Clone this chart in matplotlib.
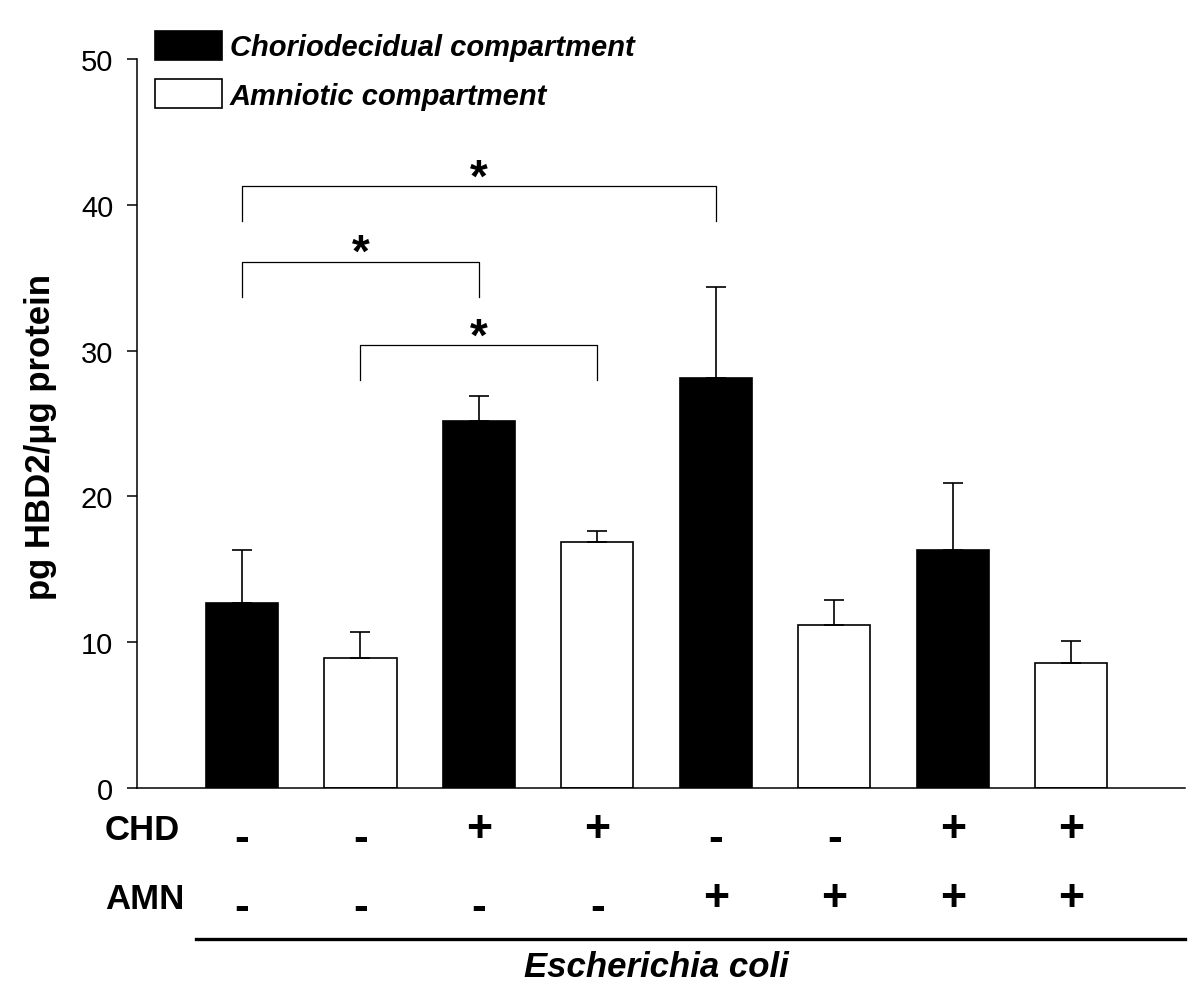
import numpy as np
import matplotlib
matplotlib.use("Agg")
import matplotlib.pyplot as plt

plt.rcParams['font.family'] = ['Liberation Sans', 'DejaVu Sans']

# data
means = [12.7, 8.9, 25.2, 16.9, 28.1, 11.2, 16.3, 8.6]
errs = [3.6, 1.8, 1.7, 0.7, 6.3, 1.7, 4.6, 1.5]
chd = ['-', '-', '+', '+', '-', '-', '+', '+']
amn = ['-', '-', '-', '-', '+', '+', '+', '+']
series = ['Choriodecidual compartment', 'Amniotic compartment']
# significance brackets: (left bar, right bar, bracket height, leg bottom)
brackets = [(0, 4, 41.3, 38.9), (0, 2, 36.1, 33.7), (1, 3, 30.4, 28.0)]

x = np.arange(len(means))
fig = plt.figure(figsize=(12, 10.03), dpi=100)
ax = fig.add_axes([0.114, 0.2134, 0.8735, 0.7266])

w = 0.61
ax.bar(x[0::2], means[0::2], w, color='black', edgecolor='black', lw=1.2,
       label=series[0], zorder=2)
ax.bar(x[1::2], means[1::2], w, color='white', edgecolor='black', lw=1.2,
       label=series[1], zorder=2)
ax.errorbar(x, means, yerr=[np.zeros(len(errs)), errs], fmt='none',
            ecolor='black', elinewidth=1.2, capsize=7, capthick=1.2, zorder=3)

for a, b, yb, yl in brackets:
    ax.plot([x[a], x[a], x[b], x[b]], [yl, yb, yb, yl], color='black', lw=0.9)
    ax.text((x[a] + x[b]) / 2, yb - 0.3, '*', ha='center', va='baseline',
            fontsize=33, fontweight='bold')

ax.set_xlim(-0.887, 7.96)
ax.set_ylim(0, 50)
ax.set_yticks(np.arange(0, 51, 10))
ax.set_xticks([])
ax.tick_params(axis='y', direction='out', length=7, width=1.1, pad=10,
               labelsize=21)
for s in ['top', 'right']:
    ax.spines[s].set_visible(False)
for s in ['left', 'bottom']:
    ax.spines[s].set_linewidth(1.1)

# condition rows under the axis
tr = ax.get_xaxis_transform()
rows = [('CHD', chd, -0.0535), ('AMN', amn, -0.148)]
for name, signs, yy in rows:
    ax.text(-1.157, yy - 0.004, name, transform=tr, ha='left', va='center',
            fontsize=25, fontweight='bold', clip_on=False)
    for xi, sg in zip(x, signs):
        if sg == '+':
            ax.text(xi, yy - 0.004, '+', transform=tr, ha='center',
                    va='center', fontsize=32, fontweight='bold',
                    clip_on=False)
        else:
            ax.text(xi, yy - 0.016, '-', transform=tr, ha='center',
                    va='center', fontsize=32, fontweight='bold',
                    clip_on=False)

ax.plot([-0.39, 7.96], [-0.207, -0.207], transform=tr, color='black',
        lw=2.4, clip_on=False)
ax.text(3.5, -0.2455, 'Escherichia coli', transform=tr, ha='center',
        va='center', fontsize=25, fontweight='bold', style='italic',
        clip_on=False)

fig.text(0.034, 0.564, 'pg HBD2/\u03bcg protein', rotation=90, ha='center',
         va='center', fontsize=25, fontweight='bold')

ax.legend(loc='upper left', bbox_to_anchor=(0.129, 0.968),
          bbox_transform=fig.transFigure, frameon=False, borderpad=0,
          borderaxespad=0, handlelength=2.3, handleheight=1.14,
          handletextpad=0.28, labelspacing=0.62,
          prop={'weight': 'bold', 'style': 'italic', 'size': 21})

fig.savefig('out.png', dpi=100)
